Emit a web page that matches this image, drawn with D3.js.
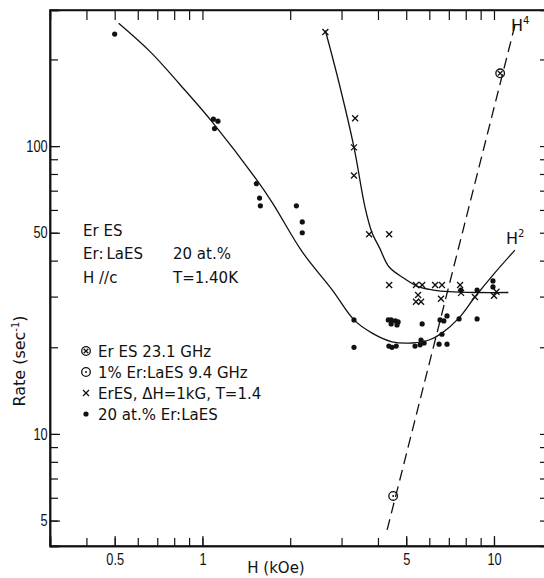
<!DOCTYPE html>
<html lang="en">
<head>
<meta charset="utf-8">
<title>Rate vs H</title>
<script src="https://cdn.jsdelivr.net/npm/d3@7/dist/d3.min.js"></script>
<style>
  body { margin: 0; background: #fff; }
  svg text { font-family: "DejaVu Sans", sans-serif; fill: #111; }
  .axis text { font-family: "Liberation Sans", sans-serif; font-size: 16px; }
  .axis path, .axis line { stroke: #111; }
</style>
</head>
<body>
<div id="chart"></div>
<script>
// 20 at.% Er:LaES (filled dots)
var dotH    = [0.50, 1.09, 1.13, 1.10, 1.53, 1.57, 1.58, 2.10, 2.20, 2.20, 3.31, 3.31,
               4.34, 4.44, 4.59, 4.69, 4.44, 4.65, 5.67, 4.36, 4.47, 4.62,
               5.36, 5.58, 5.62, 5.76, 6.48, 6.90, 6.63, 6.53, 6.73, 6.90, 7.59, 8.75,
               7.70, 8.75, 9.92, 9.92];
var dotRate = [245, 124, 122, 115, 74, 66, 62, 62, 54.5, 50, 24.9, 20.0,
               24.9, 24.9, 24.7, 24.5, 24.1, 23.9, 24.1, 20.2, 20.0, 20.2,
               20.2, 20.4, 21.2, 20.7, 20.5, 20.5, 22.2, 24.9, 24.7, 25.7, 25.1, 25.1,
               31.6, 31.6, 34.0, 32.4];

// ErES, dH = 1 kG, T = 1.4 (crosses)
var crossH    = [2.64, 3.34, 3.31, 3.31, 3.73, 4.37, 4.37, 5.40, 5.67, 5.49, 5.40, 5.62,
                 6.28, 6.63, 6.58, 7.65, 7.71, 8.60, 10.0, 10.2];
var crossRate = [249, 125, 99, 79, 49.4, 49.4, 32.9, 32.9, 32.9, 30.4, 28.8, 28.8,
                 32.9, 32.9, 29.5, 32.9, 30.9, 29.9, 30.2, 31.2];

// Er ES 23.1 GHz (circled cross) and 1% Er:LaES 9.4 GHz (circled dot)
var erEsH = [10.5],  erEsRate = [179];
var laEsH = [4.51],  laEsRate = [6.09];

// hand drawn curves
var fitDotH    = [0.516, 0.664, 0.84, 1.09, 1.54, 1.74, 2.2, 2.79, 3.31, 3.82, 4.47, 5.24, 5.99, 6.63, 7.59, 8.6, 10.0, 11.8];
var fitDotRate = [267, 212, 163, 120, 76, 63.4, 42.9, 31.6, 24.9, 22.4, 20.9, 20.7, 21.2, 22.4, 25.3, 29.9, 36.0, 43.5];
var fitCrossH    = [2.64, 2.94, 3.31, 3.61, 3.82, 4.05, 4.37, 4.9, 5.53, 6.2, 7.0, 8.75, 11.2];
var fitCrossRate = [252, 166, 99, 61.4, 49.9, 44.3, 38.0, 34.8, 32.4, 31.6, 31.2, 31.0, 31.0];

// H^4 dashed line end points
var h4H = [4.3, 11.8], h4Rate = [4.64, 263];

var xMajor = [0.5, 1, 5, 10];
var xMinor = [0.4, 0.5, 0.6, 0.7, 0.8, 0.9, 1, 2, 3, 4, 5, 6, 7, 8, 9, 10];
var yMajor = [5, 10, 50, 100];
var yMinor = [5, 6, 7, 8, 9, 10, 20, 30, 40, 50, 60, 70, 80, 90, 100, 200];

var legendText = ["Er ES 23.1 GHz", "1% Er:LaES 9.4 GHz", "ErES, \u0394H=1kG, T=1.4", "20 at.% Er:LaES"];
var legendKind = ["circleCross", "circleDot", "cross", "dot"];

var w = 544, h = 578;
var padL = 50, padR = 547, padT = 10, padB = 546;

var x = d3.scaleLog().domain([0.3, 15.2]).range([padL, padR]);
var y = d3.scaleLog().domain([4.08, 297]).range([padB, padT]);

var svg = d3.select("#chart").append("svg")
	.attr("width", w)
	.attr("height", h);

// frame
svg.append("rect")
	.attr("x", padL).attr("y", padT)
	.attr("width", padR - padL).attr("height", padB - padT)
	.attr("fill", "none")
	.attr("stroke", "#111")
	.attr("stroke-width", 1.5);

var noLabel = function() { return ""; };

// bottom
svg.append("g").attr("class", "axis")
	.attr("transform", "translate(0," + padB + ")")
	.call(d3.axisBottom(x).tickValues(xMinor).tickSize(-8).tickFormat(noLabel));
svg.append("g").attr("class", "axis")
	.attr("transform", "translate(0," + padB + ")")
	.call(d3.axisBottom(x).tickValues(xMajor).tickSize(-10).tickPadding(8).tickFormat(d3.format("")));
// top
svg.append("g").attr("class", "axis")
	.attr("transform", "translate(0," + padT + ")")
	.call(d3.axisTop(x).tickValues(xMinor).tickSize(-10).tickFormat(noLabel));
// left
svg.append("g").attr("class", "axis")
	.attr("transform", "translate(" + padL + ",0)")
	.call(d3.axisLeft(y).tickValues(yMinor).tickSize(-8).tickFormat(noLabel));
svg.append("g").attr("class", "axis")
	.attr("transform", "translate(" + padL + ",0)")
	.call(d3.axisLeft(y).tickValues(yMajor).tickSize(-10).tickPadding(3).tickFormat(d3.format("")));
// right
svg.append("g").attr("class", "axis")
	.attr("transform", "translate(" + padR + ",0)")
	.call(d3.axisRight(y).tickValues(yMinor).tickSize(-7).tickFormat(noLabel));

svg.selectAll(".axis .domain").attr("stroke-width", 1.5);
svg.selectAll(".axis line").attr("stroke-width", 1.2);
// narrow digits like the original lettering
svg.selectAll(".axis text").attr("transform", "scale(0.8,1)");

// axis titles
svg.append("text")
	.attr("x", 276).attr("y", 573)
	.attr("text-anchor", "middle")
	.attr("font-size", 15)
	.text("H (kOe)");

var yt = svg.append("text")
	.attr("transform", "translate(25,361) rotate(-90)")
	.attr("text-anchor", "middle")
	.attr("font-size", 16);
yt.append("tspan").text("Rate (sec");
yt.append("tspan").attr("dy", -6).attr("font-size", 10).text("-1");
yt.append("tspan").attr("dy", 6).text(")");

// curves
var line = d3.line()
	.x(function(d) { return x(d[0]); })
	.y(function(d) { return y(d[1]); })
	.curve(d3.curveCatmullRom);

svg.append("path")
	.datum(d3.zip(fitDotH, fitDotRate))
	.attr("d", line)
	.attr("fill", "none").attr("stroke", "#111").attr("stroke-width", 1.3);

svg.append("path")
	.datum(d3.zip(fitCrossH, fitCrossRate))
	.attr("d", line)
	.attr("fill", "none").attr("stroke", "#111").attr("stroke-width", 1.3);

svg.append("path")
	.datum(d3.zip(h4H, h4Rate))
	.attr("d", d3.line().x(function(d) { return x(d[0]); }).y(function(d) { return y(d[1]); }))
	.attr("fill", "none").attr("stroke", "#111").attr("stroke-width", 1.3)
	.attr("stroke-dasharray", "11,6");

// symbols
var drawSymbol = function(g, kind, cx, cy) {
	if (kind == "dot") {
		g.append("circle").attr("cx", cx).attr("cy", cy).attr("r", 2.6).attr("fill", "#111");
	}
	if (kind == "cross" || kind == "circleCross") {
		var s = kind == "cross" ? 3 : 2.3;
		g.append("line").attr("x1", cx - s).attr("y1", cy - s).attr("x2", cx + s).attr("y2", cy + s)
			.attr("stroke", "#111").attr("stroke-width", 1.3);
		g.append("line").attr("x1", cx - s).attr("y1", cy + s).attr("x2", cx + s).attr("y2", cy - s)
			.attr("stroke", "#111").attr("stroke-width", 1.3);
	}
	if (kind == "circleCross" || kind == "circleDot") {
		g.append("circle").attr("cx", cx).attr("cy", cy).attr("r", 4.3)
			.attr("fill", "none").attr("stroke", "#111").attr("stroke-width", 1.3);
	}
	if (kind == "circleDot") {
		g.append("circle").attr("cx", cx).attr("cy", cy).attr("r", 1).attr("fill", "#111");
	}
};

var marks = svg.append("g");
d3.zip(dotH, dotRate).forEach(function(d) { drawSymbol(marks, "dot", x(d[0]), y(d[1])); });
d3.zip(crossH, crossRate).forEach(function(d) { drawSymbol(marks, "cross", x(d[0]), y(d[1])); });
d3.zip(erEsH, erEsRate).forEach(function(d) { drawSymbol(marks, "circleCross", x(d[0]), y(d[1])); });
d3.zip(laEsH, laEsRate).forEach(function(d) { drawSymbol(marks, "circleDot", x(d[0]), y(d[1])); });

// power law labels
var powLabel = function(px, py, p) {
	var t = svg.append("text").attr("x", px).attr("y", py).attr("font-size", 16);
	t.append("tspan").text("H");
	t.append("tspan").attr("dy", -7).attr("font-size", 10).text(p);
};
powLabel(511, 31, "4");
powLabel(506, 244, "2");

// notes
var notes = svg.append("g").attr("font-size", 15);
notes.append("text").attr("x", 83).attr("y", 236).text("Er ES");
notes.append("text").attr("x", 83).attr("y", 259).text("Er:\u2009LaES");
notes.append("text").attr("x", 173).attr("y", 259).text("20 at.%");
notes.append("text").attr("x", 83).attr("y", 283).text("H //c");
notes.append("text").attr("x", 173).attr("y", 283).text("T=1.40K");

// legend
var legend = svg.append("g");
legendText.forEach(function(t, i) {
	var ly = 351 + i * 21;
	drawSymbol(legend, legendKind[i], 86, ly);
	legend.append("text").attr("x", 98).attr("y", ly + 5.5).attr("font-size", 15).text(t);
});
</script>
</body>
</html>
